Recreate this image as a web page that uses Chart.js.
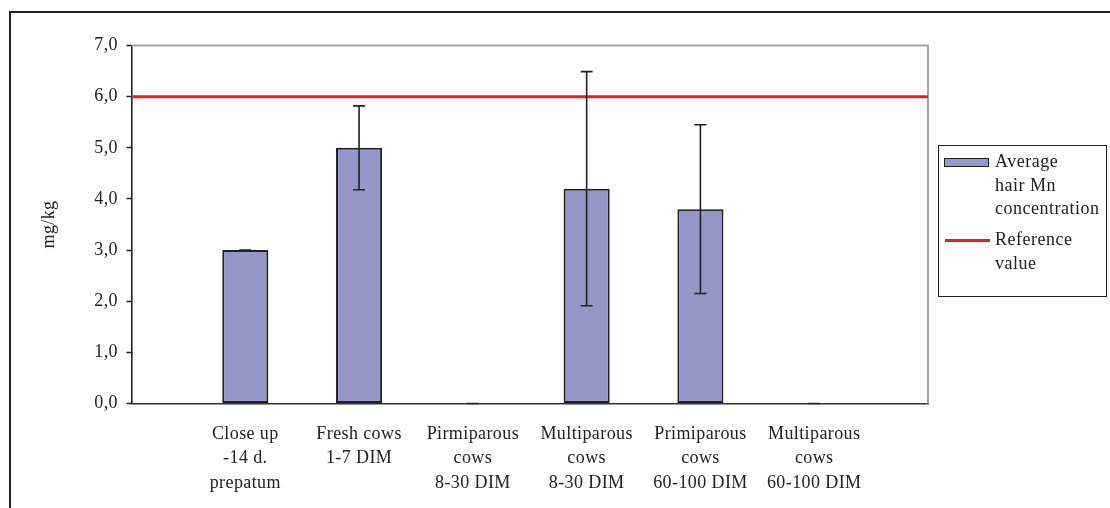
<!DOCTYPE html>
<html><head><meta charset="utf-8">
<script src="https://cdn.jsdelivr.net/npm/chart.js@4.4.1/dist/chart.umd.min.js"></script>
<style>
html,body{margin:0;padding:0;background:#fff;}
body{width:1110px;height:508px;position:relative;overflow:hidden;font-family:'Liberation Serif','Times New Roman',serif;color:#222;}
#frame{position:absolute;left:9px;top:11px;width:1200px;height:600px;border-left:2px solid #222;border-top:2px solid #222;}
#c{position:absolute;left:0;top:0;width:1110px;height:508px;}
#legend{position:absolute;left:938px;top:145px;width:169px;height:152px;border:1.5px solid #222;box-sizing:border-box;}
.sw-bar{position:absolute;left:944px;top:158px;width:45px;height:9px;box-sizing:border-box;border:1.5px solid #222;background:rgb(150,150,200);}
.sw-line{position:absolute;left:945px;top:238.5px;width:45px;height:3px;background:rgb(237,28,36);}
.lt{position:absolute;left:995px;font-size:18px;line-height:23.5px;letter-spacing:0.5px;color:#222;white-space:nowrap;}
</style>
</head>
<body>
<div id="frame"></div>
<canvas id="c" width="1110" height="508"></canvas>
<div id="legend"></div>
<div class="sw-bar"></div>
<div class="lt" style="top:150px">Average<br>hair Mn<br>concentration</div>
<div class="sw-line"></div>
<div class="lt" style="top:228px">Reference<br>value</div>
<script>
const categories = [
  ['Close up', '-14 d.', 'prepatum'],
  ['Fresh cows', '1-7 DIM'],
  ['Pirmiparous', 'cows', '8-30 DIM'],
  ['Multiparous', 'cows', '8-30 DIM'],
  ['Primiparous', 'cows', '60-100 DIM'],
  ['Multiparous', 'cows', '60-100 DIM']
];
const hairMn = [3.0, 5.0, 0.0, 4.2, 3.8, 0.0];
const hairMnSD = [0.0, 0.82, 0.0, 2.29, 1.65, 0.0];
const referenceValue = [6.0, 6.0, 6.0, 6.0, 6.0, 6.0, 6.0, 6.0];
const yTickLabels = ['0,0', '1,0', '2,0', '3,0', '4,0', '5,0', '6,0', '7,0'];

const labels = [''].concat(categories, ['']);
const barData = [null].concat(hairMn, [null]);

const FONT = 'Liberation Serif';
const TXT = '#222';

const spacing = {
  id: 'spacing',
  beforeDraw(chart) { chart.ctx.letterSpacing = '0.4px'; }
};
const frame = {
  id: 'frame',
  beforeDatasetsDraw(chart) {
    const a = chart.chartArea, ctx = chart.ctx;
    ctx.save();
    ctx.strokeStyle = '#a4a4a4';
    ctx.lineWidth = 2;
    ctx.beginPath();
    ctx.moveTo(a.left, a.top);
    ctx.lineTo(a.right, a.top);
    ctx.lineTo(a.right, a.bottom);
    ctx.stroke();
    ctx.restore();
  }
};
const errorBars = {
  id: 'errorBars',
  afterDatasetsDraw(chart) {
    const meta = chart.getDatasetMeta(0);
    const ys = chart.scales.y;
    const ctx = chart.ctx;
    ctx.save();
    ctx.strokeStyle = '#222';
    ctx.lineWidth = 1.6;
    meta.data.forEach((bar, i) => {
      const k = i - 1;
      if (k < 0 || k >= hairMn.length) return;
      const v = hairMn[k], sd = hairMnSD[k];
      const yHi = ys.getPixelForValue(v + sd);
      const yLo = ys.getPixelForValue(Math.max(0, v - sd));
      const x = bar.x, cw = 6;
      ctx.beginPath();
      ctx.moveTo(x, yHi); ctx.lineTo(x, yLo);
      ctx.moveTo(x - cw, yHi); ctx.lineTo(x + cw, yHi);
      ctx.moveTo(x - cw, yLo); ctx.lineTo(x + cw, yLo);
      ctx.stroke();
    });
    ctx.restore();
  }
};

new Chart(document.getElementById('c'), {
  type: 'bar',
  data: {
    labels: labels,
    datasets: [
      {
        label: 'Average hair Mn concentration',
        data: barData,
        backgroundColor: 'rgb(150,150,200)',
        borderColor: '#222',
        borderWidth: 2,
        borderSkipped: false,
        categoryPercentage: 1,
        barPercentage: 0.405
      },
      {
        type: 'line',
        label: 'Reference value',
        data: referenceValue,
        borderColor: 'rgb(237,28,36)',
        borderWidth: 3,
        pointRadius: 0,
        fill: false
      }
    ]
  },
  options: {
    responsive: false,
    animation: false,
    devicePixelRatio: 1,
    layout: { padding: { left: 10, top: 45.5, right: 182, bottom: 0 } },
    plugins: { legend: { display: false }, tooltip: { enabled: false } },
    scales: {
      x: {
        offset: false,
        grid: { display: false },
        border: { display: true, color: '#333', width: 1.5 },
        ticks: {
          autoSkip: false, maxRotation: 0, minRotation: 0, padding: 10, color: TXT,
          font: { family: FONT, size: 18, lineHeight: 1.37 }
        },
        afterFit(s) { s.height = 104.5; }
      },
      y: {
        min: 0, max: 7,
        ticks: {
          stepSize: 1, padding: 8.5, color: TXT,
          font: { family: FONT, size: 18 },
          callback: (v, i) => yTickLabels[i]
        },
        grid: { display: true, drawOnChartArea: false, drawTicks: true, tickLength: 5, tickColor: '#222', tickWidth: 1.5 },
        border: { display: true, color: '#222', width: 1.6 },
        title: { display: true, text: 'mg/kg', color: TXT, font: { family: FONT, size: 18 }, padding: { top: 28, bottom: 0 } },
        afterFit(s) { s.width = 121.5; }
      }
    }
  },
  plugins: [spacing, frame, errorBars]
});
</script>
</body></html>
